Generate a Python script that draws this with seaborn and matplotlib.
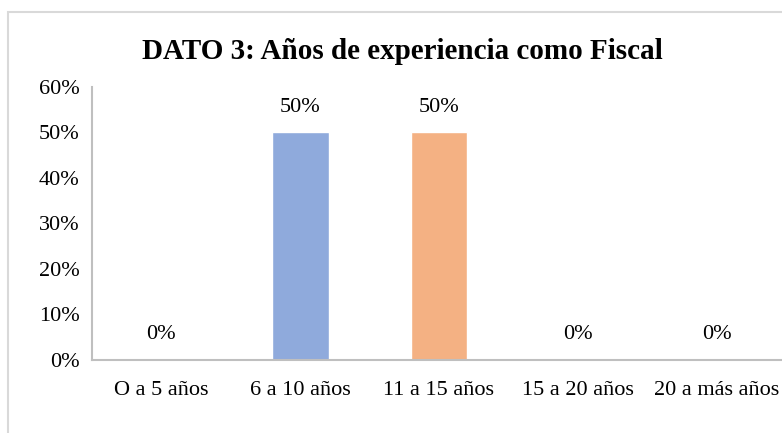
import pandas as pd
import matplotlib.pyplot as plt
import seaborn as sns
from matplotlib.patches import Rectangle
from matplotlib.ticker import PercentFormatter

# datos del grafico
categorias = ["O a 5 años", "6 a 10 años", "11 a 15 años", "15 a 20 años", "20 a más años"]
porcentajes = [0, 50, 50, 0, 0]
colores = ["#8FAADC", "#8FAADC", "#F4B183", "#8FAADC", "#8FAADC"]

df = pd.DataFrame({"Categoria": categorias, "Porcentaje": porcentajes})

sns.set_style("white")
plt.rcParams["font.family"] = ["Liberation Serif", "DejaVu Serif"]
plt.rcParams["text.color"] = "#000000"

fig = plt.figure(figsize=(7.82, 4.33), dpi=100)
ax = fig.add_axes([0.1176, 0.1686, 0.8875, 0.6305])

sns.barplot(data=df, x="Categoria", y="Porcentaje", hue="Categoria",
            palette=colores, width=0.41, saturation=1, legend=False, ax=ax)

ax.set_ylim(0, 60)
ax.set_xlim(-0.5, 4.5)
ax.set_yticks(range(0, 61, 10))
ax.yaxis.set_major_formatter(PercentFormatter(decimals=0))
ax.set_xlabel("")
ax.set_ylabel("")
ax.tick_params(axis="both", labelsize=16, colors="#000000", length=0)
ax.tick_params(axis="x", pad=15)
ax.tick_params(axis="y", pad=9)

for s in ["top", "right"]:
    ax.spines[s].set_visible(False)
for s in ["left", "bottom"]:
    ax.spines[s].set_color("#BFBFBF")
    ax.spines[s].set_linewidth(1.5)

# etiquetas de valores
for i, v in enumerate(porcentajes):
    ax.text(i, v + 5.5, f"{v}%", ha="center", va="center", fontsize=16, color="#000000")

fig.text(0.514, 0.88, "DATO 3: Años de experiencia como Fiscal", ha="center", va="center",
         fontsize=21, fontweight="bold", color="#000000")

# borde del area del grafico
fig.patches.append(Rectangle((8 / 782, -0.1), 1.1, 1.1 - 12 / 433, transform=fig.transFigure,
                             fill=False, edgecolor="#D9D9D9", linewidth=1.5))

fig.savefig("out.png", dpi=100)
